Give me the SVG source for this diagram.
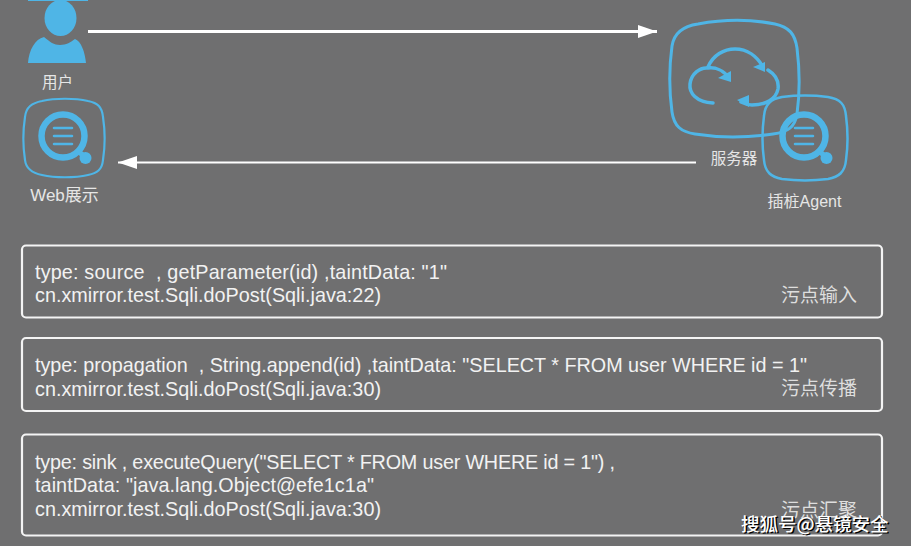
<svg xmlns="http://www.w3.org/2000/svg" width="911" height="546" viewBox="0 0 911 546">
<defs>
<style>
.t{font-family:"Liberation Sans","Noto Sans CJK SC",sans-serif;font-size:19.8px;fill:#f2f2f2;white-space:pre}
.c{font-family:"Liberation Sans","Noto Sans CJK SC",sans-serif;font-size:15.5px;fill:#e6e6e6}
.l{font-family:"Noto Sans CJK SC",sans-serif;font-size:19px;fill:#dedede}
.b{fill:none;stroke:#f4f4f4;stroke-width:2.2}
.i{fill:none;stroke:#4fb5e6;stroke-linecap:round}
.wm{font-family:"Noto Sans CJK SC",sans-serif;font-size:18.5px;font-weight:500}
</style>
<marker id="ah" markerUnits="userSpaceOnUse" markerWidth="19" markerHeight="13" refX="19" refY="6.500" orient="auto"><path d="M0 0L19 6.500L0 13Z" fill="#fff"/></marker>
<g id="q">
<circle cx="0" cy="0" r="21.500" class="i" stroke-width="6.500"/>
<path d="M-9 -8H9M-9 0H9M-9 8H9" class="i" stroke-width="2.500"/>
<path d="M15 15L22 21" class="i" stroke-width="5"/>
<circle cx="22.500" cy="22" r="6" fill="#4fb5e6"/>
</g>
</defs>
<rect width="911" height="546" fill="#6f6f70"/>
<g id="connectors">
<path d="M88 31.500H657" fill="none" stroke="#fff" stroke-width="3" marker-end="url(#ah)"/>
<path d="M696 162.500H118" fill="none" stroke="#fff" stroke-width="2" marker-end="url(#ah)"/>
</g>
<g id="user">
<rect x="28" y="0" width="60" height="1" fill="#4fb5e6"/>
<ellipse cx="60.500" cy="18" rx="16" ry="18" fill="#4fb5e6"/>
<path d="M28 63C29 50 35 39 44 37C50 42 54 45 60 45C66 45 71 42 75 39C81 41 85 52 86 63Z" fill="#4fb5e6"/>
<text x="57.500" y="88" class="c" text-anchor="middle">用户</text>
</g>
<g id="web">
<path d="M42 101C55 98 75 98 88 101C98 103 102 107 103 117C105 130 105 147 103 160C102 170 97 173 88 175C75 178 55 178 42 175C32 173 26 169 25 160C23 147 23 130 25 117C26 107 32 103 42 101Z" class="i" stroke-width="2.200"/>
<use href="#q" x="63" y="136"/>
<text x="64.500" y="201" class="c" style="font-size:17px" text-anchor="middle">Web展示</text>
</g>
<g id="server">
<path d="M698 24C725 19 750 19 775 24C789 27 795 34 797 48C800 72 800 92 797 114C795 127 788 132 773 134C745 138 720 138 695 134C681 132 674 126 672 112C669 90 669 68 672 46C674 33 684 26 698 24Z" class="i" stroke-width="3"/>
<path d="M713 103C696 102 689 93 690 84C691 74 700 67 708 68C716 67 724 71 729 78" class="i" stroke-width="3.500"/>
<path d="M708 67C713 55 724 49 735 49C747 49 757 56 763 67" class="i" stroke-width="3.500"/>
<path d="M768 70C776 75 779 82 778 89C776 99 766 105 752 105C748 105 745 104 741 102" class="i" stroke-width="3.500"/>
<path d="M731 82L718 78L731 71Z M765 72L753 67L765 62Z M737 100L749 95V107Z" fill="#4fb5e6"/>
<text x="734" y="164" class="c" text-anchor="middle">服务器</text>
</g>
<g id="agent">
<path d="M782 97C798 95 812 95 828 97C840 99 845 104 846 116C848 131 848 146 846 160C845 172 839 177 828 179C812 181 798 181 782 179C771 177 765 172 764 160C762 146 762 131 764 116C765 104 771 99 782 97Z" class="i" stroke-width="2.500"/>
<use href="#q" x="804" y="136"/>
<text x="804.500" y="207" class="c" style="font-size:16px" text-anchor="middle">插桩Agent</text>
</g>
<g id="step1">
<rect x="22" y="245.500" width="860" height="72" rx="4" class="b"/>
<text x="35" y="279" class="t" textLength="412">type: source  , getParameter(id) ,taintData: "1"</text>
<text x="35" y="302" class="t" textLength="346">cn.xmirror.test.Sqli.doPost(Sqli.java:22)</text>
<text x="781" y="302" class="l">污点输入</text>
</g>
<g id="step2">
<rect x="22" y="338" width="860" height="73" rx="4" class="b"/>
<text x="35" y="372" class="t" textLength="772">type: propagation  , String.append(id) ,taintData: "SELECT * FROM user WHERE id = 1"</text>
<text x="35" y="396" class="t" textLength="346">cn.xmirror.test.Sqli.doPost(Sqli.java:30)</text>
<text x="781" y="395" class="l">污点传播</text>
</g>
<g id="step3">
<rect x="22" y="434.500" width="860" height="101" rx="4" class="b"/>
<text x="35" y="469" class="t" textLength="580">type: sink , executeQuery("SELECT * FROM user WHERE id = 1") ,</text>
<text x="35" y="492" class="t" textLength="339">taintData: "java.lang.Object@efe1c1a"</text>
<text x="35" y="516" class="t" textLength="346">cn.xmirror.test.Sqli.doPost(Sqli.java:30)</text>
<text x="781" y="517" class="l">污点汇聚</text>
</g>
<g id="watermark">
<text x="742.500" y="532" class="wm" fill="#000">搜狐号@悬镜安全</text>
<text x="741" y="531" class="wm" fill="#fff">搜狐号@悬镜安全</text>
</g>
</svg>
